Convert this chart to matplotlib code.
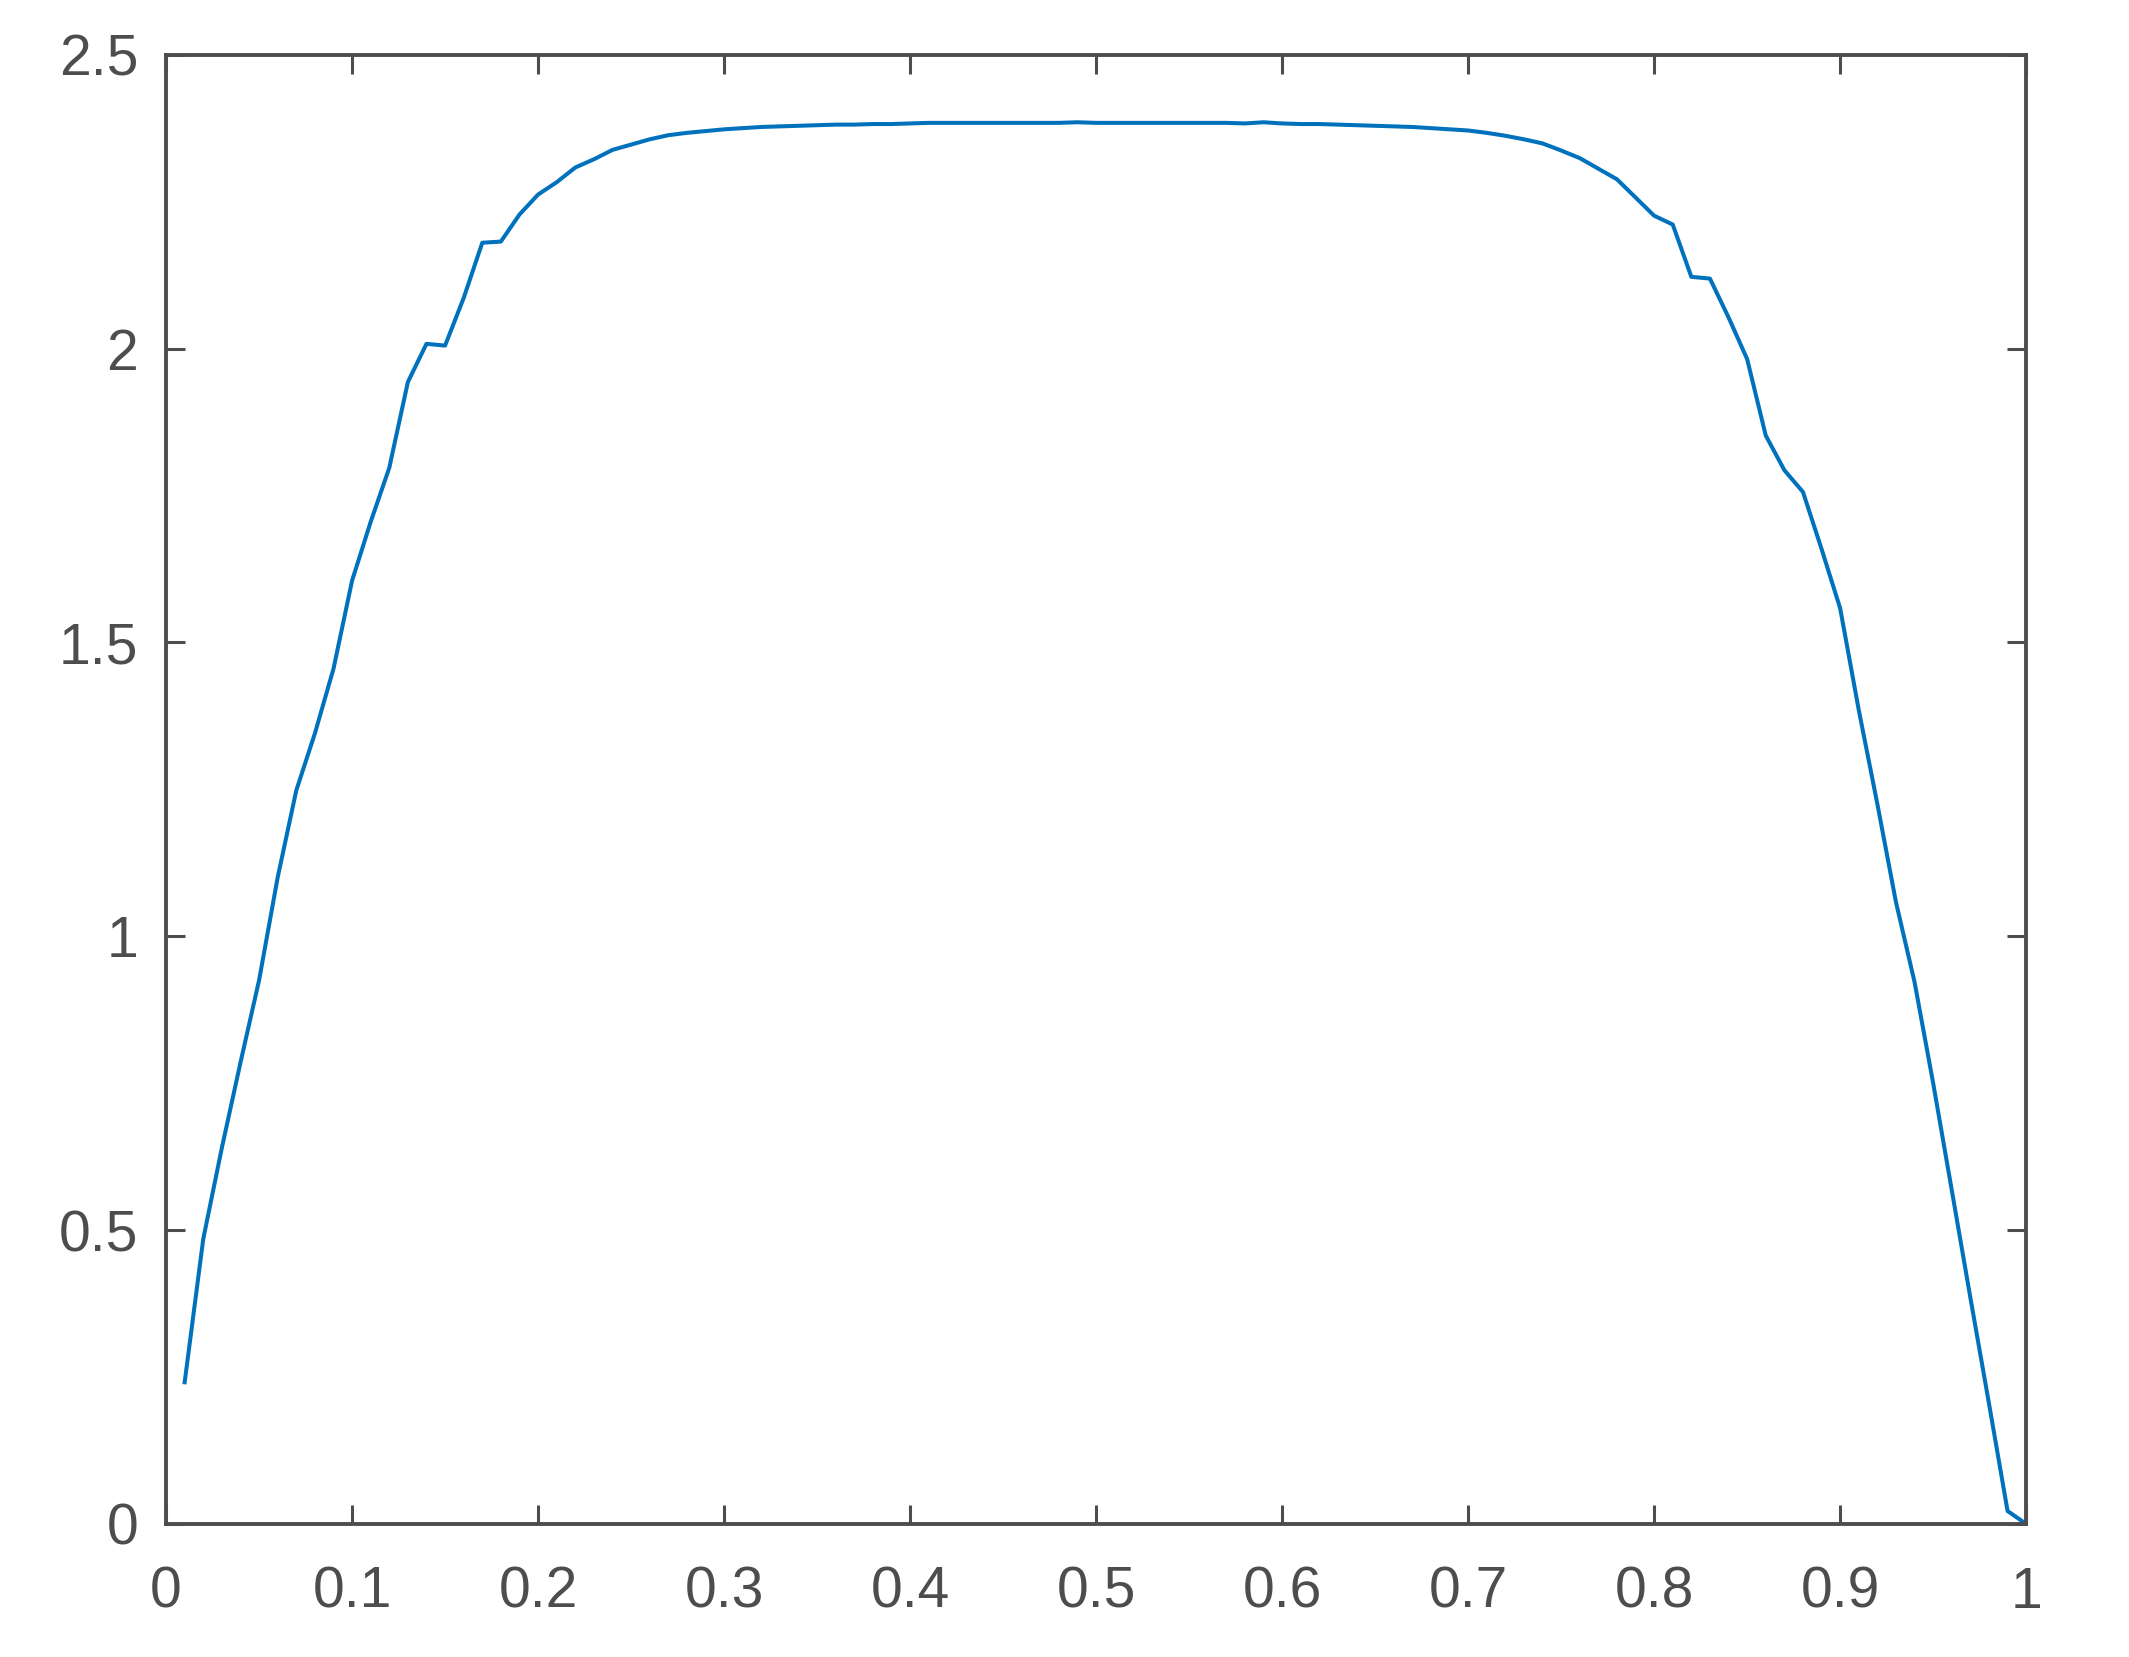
import numpy as np
import matplotlib
matplotlib.use("Agg")
import matplotlib.pyplot as plt

# sample points and curve values
x = np.linspace(0.01, 1.0, 100)
y = [0.241, 0.485, 0.640, 0.785, 0.925, 1.100, 1.248, 1.345, 1.455, 1.605,
     1.705, 1.797, 1.943, 2.008, 2.005, 2.086, 2.180, 2.182, 2.228, 2.262,
     2.283, 2.308, 2.322, 2.338, 2.347, 2.356, 2.363, 2.367, 2.370, 2.373,
     2.375, 2.377, 2.378, 2.379, 2.380, 2.381, 2.381, 2.382, 2.382, 2.383,
     2.384, 2.384, 2.384, 2.384, 2.384, 2.384, 2.384, 2.384, 2.385, 2.384,
     2.384, 2.384, 2.384, 2.384, 2.384, 2.384, 2.384, 2.383, 2.385, 2.383,
     2.382, 2.382, 2.381, 2.380, 2.379, 2.378, 2.377, 2.375, 2.373, 2.371,
     2.367, 2.362, 2.356, 2.349, 2.337, 2.324, 2.306, 2.288, 2.257, 2.226,
     2.211, 2.122, 2.119, 2.053, 1.982, 1.852, 1.793, 1.756, 1.659, 1.558,
     1.385, 1.225, 1.058, 0.922, 0.750, 0.568, 0.385, 0.205, 0.022, 0.000]

xticks = [0, 0.1, 0.2, 0.3, 0.4, 0.5, 0.6, 0.7, 0.8, 0.9, 1]
xlabels = ["0", "0.1", "0.2", "0.3", "0.4", "0.5", "0.6", "0.7", "0.8", "0.9", "1"]
yticks = [0, 0.5, 1, 1.5, 2, 2.5]
ylabels = ["0", "0.5", "1", "1.5", "2", "2.5"]

plt.rcParams['font.family'] = ['Liberation Sans', 'DejaVu Sans']
axcol = '#4d4d4d'

fig = plt.figure(figsize=(2129/200, 1657/200), dpi=200)
ax = fig.add_axes([0.078, 0.0803, 0.8737, 0.8867])

ax.plot(x, y, color='#0072BD', lw=1.45)

ax.set_xlim(0, 1)
ax.set_ylim(0, 2.5)
ax.set_xticks(xticks)
ax.set_xticklabels(xlabels)
ax.set_yticks(yticks)
ax.set_yticklabels(ylabels)

for s in ax.spines.values():
    s.set_color(axcol)
    s.set_linewidth(1.4)
ax.tick_params(direction='in', length=6.8, width=1.1, color=axcol,
               labelcolor=axcol, labelsize=20.5, top=True, right=True)
ax.tick_params(axis='x', pad=15)
ax.tick_params(axis='y', pad=10)

fig.savefig("out.png", dpi=200)
